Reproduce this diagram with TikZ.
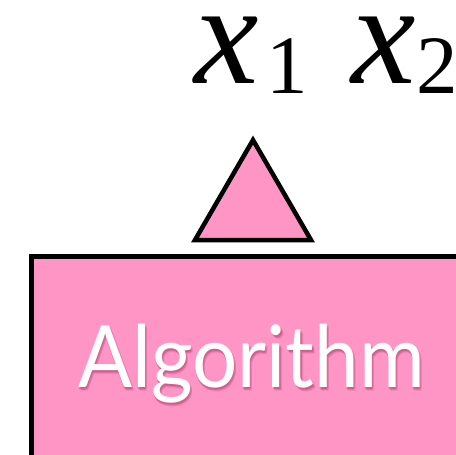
\documentclass[tikz,border=0pt]{standalone}
\usepackage{fontspec}
\setmainfont{Liberation Serif}
\newfontfamily\labelfont{Lato}
\definecolor{boxpink}{HTML}{FF95C5}
\definecolor{shadowpink}{HTML}{B0406E}
\begin{document}
\begin{tikzpicture}[x=1pt,y=-1pt,
  bigx/.style={anchor=base west,inner sep=0pt,font=\fontsize{145}{150}\selectfont\itshape},
  subnum/.style={anchor=base west,inner sep=0pt,font=\fontsize{83}{90}\selectfont},
  shapeline/.style={draw=black,fill=boxpink,line width=5pt},
  algtext/.style={anchor=base,inner sep=0pt,text=white,xscale=0.93,font=\labelfont\fontsize{86}{96}\selectfont},
  algshadow/.style={anchor=base,inner sep=0pt,text=shadowpink,xscale=0.93,font=\labelfont\fontsize{86}{96}\selectfont}]
\useasboundingbox (0,0) rectangle (456,455);
% inputs
\node[bigx] (xa) at (194,83) {x};
\node[subnum] (sa) at (266,93) {1};
\node[bigx] (xb) at (351,83) {x};
\node[subnum] (sb) at (416,93) {2};
% triangle
\draw[shapeline,line width=4.5pt] (253,140) coordinate (apex) -- (195,240) coordinate (bl) -- (311,240) coordinate (br) -- cycle;
% algorithm box (cropped)
\begin{scope}
\clip (0,0) rectangle (456,455);
\draw[shapeline] (31.5,256.5) rectangle (480,480);
\end{scope}
\foreach \dx/\dy/\op in {1.5/3/0.25,2.5/4/0.15,0.5/2/0.25,2/2.5/0.2}{
  \node[algshadow,opacity=\op] at (251.5+\dx,387+\dy) {Algorithm};
}
\node[algtext] (alg) at (251.5,387) {Algorithm};
\end{tikzpicture}
\end{document}
